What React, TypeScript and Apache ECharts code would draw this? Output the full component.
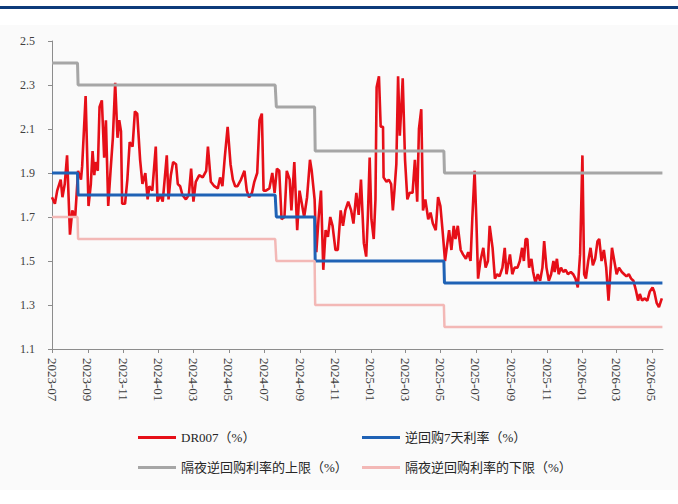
import React, { useEffect, useRef } from "react";
import * as echarts from "echarts";

// ---- Data ----
const startDate = "2023-07-01";
const endDate = "2026-05-20";

const yMin = 1.1;
const yMax = 2.5;
const yStep = 0.2;

const seriesNames = [
  "DR007（%）",
  "逆回购7天利率（%）",
  "隔夜逆回购利率的上限（%）",
  "隔夜逆回购利率的下限（%）",
];

// policy rate change dates and levels
const policyChangeDates = ["2023-07-01", "2023-08-15", "2024-07-22", "2024-09-27", "2025-05-08"];
const reverseRepo7d = [1.9, 1.8, 1.7, 1.5, 1.4];
const overnightUpper = [2.4, 2.3, 2.2, 2.0, 1.9];
const overnightLower = [1.7, 1.6, 1.5, 1.3, 1.2];

const dr007Dates = [
  "2023-07-01","2023-07-06","2023-07-10","2023-07-16","2023-07-19","2023-07-23","2023-07-27","2023-08-01","2023-08-05","2023-08-10",
  "2023-08-15","2023-08-20","2023-08-22","2023-08-28","2023-09-02","2023-09-06","2023-09-09","2023-09-12","2023-09-14","2023-09-18",
  "2023-09-21","2023-09-25","2023-09-29","2023-10-02","2023-10-06","2023-10-10","2023-10-14","2023-10-18","2023-10-22","2023-10-25",
  "2023-10-28","2023-10-30","2023-11-04","2023-11-08","2023-11-12","2023-11-17","2023-11-21","2023-11-25","2023-11-30","2023-12-04",
  "2023-12-09","2023-12-13","2023-12-16","2023-12-21","2023-12-27","2023-12-30","2024-01-04","2024-01-08","2024-01-15","2024-01-18",
  "2024-01-22","2024-01-26","2024-01-31","2024-02-03","2024-02-07","2024-02-11","2024-02-17","2024-02-22","2024-02-26","2024-03-01",
  "2024-03-05","2024-03-11","2024-03-17","2024-03-23","2024-03-26","2024-03-31","2024-04-06","2024-04-12","2024-04-16","2024-04-20",
  "2024-04-24","2024-04-29","2024-05-04","2024-05-08","2024-05-12","2024-05-16","2024-05-22","2024-05-28","2024-06-01","2024-06-05",
  "2024-06-10","2024-06-14","2024-06-19","2024-06-23","2024-06-27","2024-06-30","2024-07-04","2024-07-10","2024-07-15","2024-07-19",
  "2024-07-23","2024-07-27","2024-07-31","2024-08-05","2024-08-09","2024-08-14","2024-08-17","2024-08-22","2024-08-27","2024-08-31",
  "2024-09-04","2024-09-08","2024-09-13","2024-09-18","2024-09-21","2024-09-26","2024-09-29","2024-10-03","2024-10-07","2024-10-11",
  "2024-10-15","2024-10-19","2024-10-23","2024-10-27","2024-11-01","2024-11-05","2024-11-10","2024-11-14","2024-11-18","2024-11-23",
  "2024-11-28","2024-12-02","2024-12-07","2024-12-11","2024-12-15","2024-12-20","2024-12-24","2024-12-27","2024-12-30","2025-01-02",
  "2025-01-06","2025-01-09","2025-01-11","2025-01-15","2025-01-18","2025-01-22","2025-01-23","2025-01-28","2025-02-01","2025-02-05",
  "2025-02-08","2025-02-11","2025-02-14","2025-02-17","2025-02-20","2025-02-23","2025-02-25","2025-03-01","2025-03-05","2025-03-09",
  "2025-03-14","2025-03-18","2025-03-22","2025-03-25","2025-03-29","2025-04-01","2025-04-05","2025-04-10","2025-04-14","2025-04-18",
  "2025-04-23","2025-04-27","2025-05-01","2025-05-05","2025-05-09","2025-05-12","2025-05-16","2025-05-20","2025-05-24","2025-05-27",
  "2025-05-31","2025-06-05","2025-06-09","2025-06-14","2025-06-18","2025-06-22","2025-06-25","2025-06-29","2025-07-02","2025-07-05",
  "2025-07-09","2025-07-14","2025-07-18","2025-07-22","2025-07-25","2025-07-30","2025-08-03","2025-08-07","2025-08-11","2025-08-16",
  "2025-08-20","2025-08-23","2025-08-29","2025-09-02","2025-09-06","2025-09-11","2025-09-15","2025-09-19","2025-09-22","2025-09-25",
  "2025-09-28","2025-10-01","2025-10-05","2025-10-08","2025-10-12","2025-10-16","2025-10-20","2025-10-24","2025-10-27","2025-10-31",
  "2025-11-04","2025-11-08","2025-11-12","2025-11-14","2025-11-18","2025-11-21","2025-11-25","2025-11-29","2025-12-03","2025-12-07",
  "2025-12-12","2025-12-16","2025-12-20","2025-12-24","2025-12-28","2026-01-01","2026-01-04","2026-01-07","2026-01-11","2026-01-15",
  "2026-01-19","2026-01-23","2026-01-27","2026-01-30","2026-02-03","2026-02-07","2026-02-11","2026-02-15","2026-02-18","2026-02-21",
  "2026-02-25","2026-03-01","2026-03-05","2026-03-10","2026-03-14","2026-03-18","2026-03-22","2026-03-26","2026-03-30","2026-04-03",
  "2026-04-07","2026-04-10","2026-04-14","2026-04-18","2026-04-23","2026-04-27","2026-05-02","2026-05-05","2026-05-09","2026-05-13",
  "2026-05-18",
];

const dr007Values = [
  1.79,1.76,1.82,1.87,1.79,1.85,1.98,1.62,1.73,1.70,
  1.91,1.87,1.93,2.25,1.75,1.85,2.00,1.89,1.95,1.91,
  2.20,2.23,1.97,2.14,1.75,1.91,2.06,2.31,2.06,2.14,
  2.09,1.76,1.76,1.87,2.04,2.02,2.18,2.17,1.96,1.85,
  1.90,1.78,1.84,1.82,2.02,1.77,1.80,1.77,1.98,1.78,
  1.89,1.95,1.94,1.85,1.84,1.80,1.78,1.80,1.92,1.77,
  1.86,1.89,1.88,1.91,2.02,1.86,1.84,1.83,1.88,1.84,
  1.97,2.11,1.94,1.87,1.84,1.84,1.87,1.91,1.82,1.79,
  1.81,1.86,1.90,2.14,2.17,1.82,1.82,1.83,1.90,1.81,
  1.92,1.91,1.69,1.70,1.91,1.87,1.73,1.95,1.64,1.82,
  1.76,1.70,1.79,1.96,1.91,1.78,1.54,1.70,1.82,1.46,
  1.64,1.61,1.70,1.66,1.55,1.55,1.73,1.66,1.73,1.77,
  1.73,1.67,1.81,1.71,1.87,1.58,1.52,1.71,1.97,1.69,
  1.60,1.78,2.29,2.34,2.11,2.11,1.88,1.86,1.87,1.85,
  1.73,1.83,1.94,2.34,2.07,2.22,2.33,1.96,1.78,1.81,
  1.81,1.96,1.77,2.10,2.19,1.73,1.78,1.69,1.72,1.67,
  1.64,1.79,1.75,1.63,1.50,1.56,1.64,1.55,1.66,1.60,
  1.66,1.55,1.53,1.51,1.54,1.50,1.69,1.91,1.69,1.42,
  1.50,1.56,1.47,1.50,1.66,1.56,1.42,1.44,1.43,1.47,
  1.56,1.44,1.53,1.44,1.47,1.47,1.50,1.56,1.50,1.60,
  1.60,1.47,1.51,1.45,1.40,1.44,1.41,1.47,1.59,1.47,
  1.41,1.44,1.50,1.45,1.51,1.44,1.47,1.45,1.46,1.44,
  1.45,1.44,1.42,1.38,1.53,1.98,1.44,1.42,1.50,1.56,
  1.48,1.51,1.59,1.60,1.50,1.55,1.47,1.32,1.44,1.56,
  1.50,1.44,1.47,1.45,1.44,1.43,1.44,1.42,1.41,1.37,
  1.32,1.35,1.32,1.33,1.32,1.36,1.38,1.36,1.31,1.29,
  1.33,
];

// ---- Helpers ----
function buildDays(a: string, b: string): string[] {
  const out: string[] = [];
  const s = Date.parse(a + "T00:00:00Z");
  const e = Date.parse(b + "T00:00:00Z");
  for (let t = s; t <= e; t += 86400000) out.push(new Date(t).toISOString().slice(0, 10));
  return out;
}

function stepSeries(days: string[], changes: string[], levels: number[]): number[] {
  return days.map((d) => {
    let v = levels[0];
    for (let i = 0; i < changes.length; i++) if (changes[i] <= d) v = levels[i];
    return v;
  });
}

const isTickDay = (_i: number, v: string) => {
  if (!v || v.slice(8, 10) !== "01") return false;
  const m = parseInt(v.slice(5, 7), 10);
  return m % 2 === 1;
};

const serif = '"Liberation Serif", "Times New Roman", serif';
const cjk = '"Liberation Serif", "Noto Sans CJK SC", serif';

export default function App() {
  const ref = useRef<HTMLDivElement>(null);

  useEffect(() => {
    if (!ref.current) return;
    const chart = echarts.init(ref.current, undefined, { renderer: "svg" });
    const days = buildDays(startDate, endDate);
    const drMap: Record<string, number> = {};
    dr007Dates.forEach((d, i) => (drMap[d] = dr007Values[i]));
    const drData = days.map((d) => (d in drMap ? drMap[d] : null));

    const colors = ["#e60f18", "#1f62b5", "#a6a6a6", "#f3b8b6"];
    const legendPos = [
      { left: 138, top: 431 },
      { left: 362, top: 431 },
      { left: 138, top: 461 },
      { left: 362, top: 461 },
    ];

    chart.setOption({
      animation: false,
      backgroundColor: "transparent",
      grid: { left: 52, right: 15, top: 41, bottom: 155, containLabel: false },
      legend: seriesNames.map((n, i) => ({
        data: [n],
        left: legendPos[i].left,
        top: legendPos[i].top,
        padding: 0,
        icon: "rect",
        itemWidth: 38,
        itemHeight: 3,
        textStyle: { fontFamily: cjk, fontSize: 13, color: "#262626" },
        selectedMode: false,
      })),
      xAxis: {
        type: "category",
        data: days,
        boundaryGap: false,
        axisLine: { lineStyle: { color: "#8c8c8c", width: 1 } },
        axisTick: { interval: isTickDay, length: 4, lineStyle: { color: "#8c8c8c" } },
        axisLabel: {
          interval: isTickDay,
          rotate: -90,
          margin: 9,
          formatter: (v: string) => v.slice(0, 7),
          fontFamily: serif,
          fontSize: 13,
          color: "#404040",
        },
        splitLine: { show: false },
      },
      yAxis: {
        type: "value",
        min: yMin,
        max: yMax,
        interval: yStep,
        axisLine: { show: true, lineStyle: { color: "#8c8c8c", width: 1 } },
        axisTick: { show: true, length: 4, lineStyle: { color: "#8c8c8c" } },
        axisLabel: {
          margin: 17,
          formatter: (v: number) => v.toFixed(1),
          fontFamily: serif,
          fontSize: 12,
          color: "#404040",
        },
        splitLine: { show: false },
      },
      series: [
        {
          name: seriesNames[0],
          type: "line",
          data: drData,
          connectNulls: true,
          showSymbol: false,
          symbol: "none",
          lineStyle: { color: colors[0], width: 2.6 },
          itemStyle: { color: colors[0] },
          z: 2,
        },
        {
          name: seriesNames[1],
          type: "line",
          data: stepSeries(days, policyChangeDates, reverseRepo7d),
          showSymbol: false,
          symbol: "none",
          lineStyle: { color: colors[1], width: 3 },
          itemStyle: { color: colors[1] },
          z: 3,
        },
        {
          name: seriesNames[2],
          type: "line",
          data: stepSeries(days, policyChangeDates, overnightUpper),
          showSymbol: false,
          symbol: "none",
          lineStyle: { color: colors[2], width: 3 },
          itemStyle: { color: colors[2] },
          z: 3,
        },
        {
          name: seriesNames[3],
          type: "line",
          data: stepSeries(days, policyChangeDates, overnightLower),
          showSymbol: false,
          symbol: "none",
          lineStyle: { color: colors[3], width: 2.5 },
          itemStyle: { color: colors[3] },
          z: 3,
        },
      ],
    });
    return () => chart.dispose();
  }, []);

  return (
    <div style={{ position: "fixed", left: 0, top: 0, width: 678, height: 504, background: "#ffffff", overflow: "hidden" }}>
      <div style={{ position: "absolute", left: 0, top: 6, width: 678, height: 3, background: "#0d3b7a" }} />
      <div style={{ position: "absolute", left: 0, top: 25, width: 678, height: 465, background: "#fafafa" }} />
      <div ref={ref} style={{ position: "absolute", left: 0, top: 0, width: 678, height: 504 }} />
    </div>
  );
}
